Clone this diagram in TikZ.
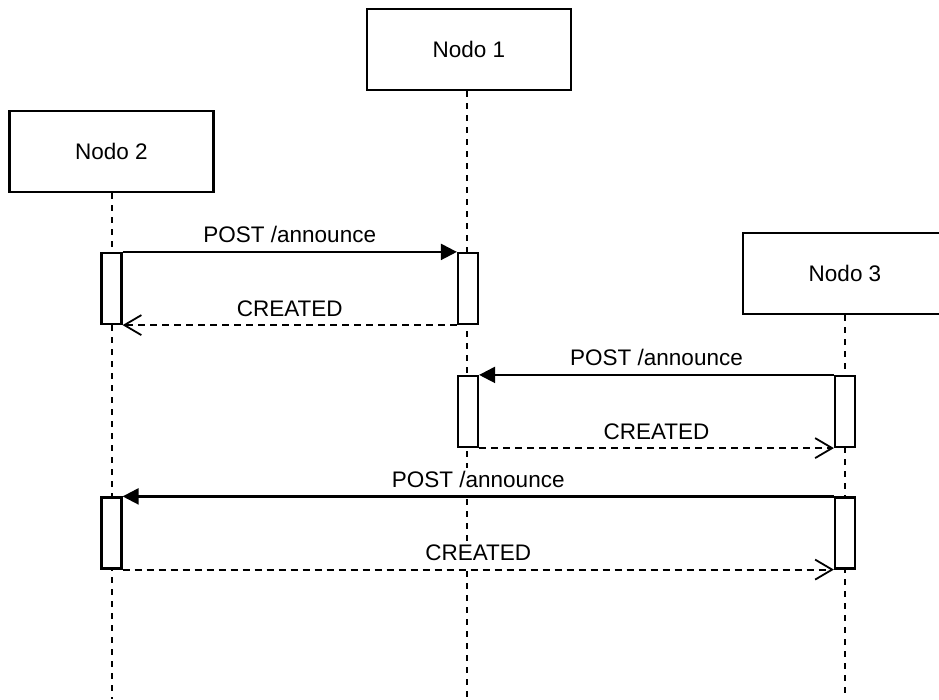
\documentclass[tikz,border=0pt]{standalone}
\usepackage{fontspec}
\setmainfont{Liberation Sans}
\usetikzlibrary{arrows.meta}
\begin{document}
\begin{tikzpicture}[x=1pt,y=-1pt,
  actor/.style={draw=black,line width=2.2pt,fill=white,minimum width=204pt,minimum height=81pt,inner sep=0pt,font=\fontsize{22.5}{26}\selectfont},
  life/.style={black,line width=2pt,dash pattern=on 6pt off 6pt},
  act/.style={draw=black,line width=2.2pt,fill=white,minimum width=20pt,minimum height=71pt,inner sep=0pt},
  msg/.style={black,line width=2.2pt,-{Triangle[length=16pt,width=16pt]}},
  ret/.style={black,line width=2pt,dash pattern=on 7pt off 5pt,-{Straight Barb[length=17pt,width=20pt,line width=1.8pt]}},
  lbl/.style={fill=white,text=black,inner sep=2pt,text height=17pt,text depth=5pt,font=\fontsize{22.5}{26}\selectfont,anchor=south,yshift=1pt}
]
\useasboundingbox (0,0) rectangle (939,699);
\clip (0,0) rectangle (939,699);
% actors
\node[actor] (n1) at (469,49.5) {Nodo 1};
\node[actor] (n2) at (111.5,151.5) {Nodo 2};
\node[actor] (n3) at (845,273.5) {Nodo 3};
% lifeline ends
\coordinate (e1) at (467,699);
\coordinate (e2) at (111.5,699);
\coordinate (e3) at (845,699);
\draw[life] (n1.south -| e1) -- (e1);
\draw[life] (n2.south) -- (e2);
\draw[life] (n3.south) -- (e3);
% activations
\node[act] (a2a) at (111.5,288.5) {};
\node[act] (a1a) at (468,288.5) {};
\node[act] (a1b) at (468,411.5) {};
\node[act] (a3b) at (845,411.5) {};
\node[act] (a2c) at (111.5,533) {};
\node[act] (a3c) at (845,533) {};
% messages
\draw[msg] (a2a.north east) -- node[lbl] {POST /announce} (a1a.north west);
\draw[ret] (a1a.south west) -- node[lbl] {CREATED} (a2a.south east);
\draw[msg] (a3b.north west) -- node[lbl] {POST /announce} (a1b.north east);
\draw[ret] (a1b.south east) -- node[lbl] {CREATED} (a3b.south west);
\draw[msg] (a3c.north west) -- node[lbl] {POST /announce} (a2c.north east);
\draw[ret] (a2c.south east) -- node[lbl] {CREATED} (a3c.south west);
\end{tikzpicture}
\end{document}
